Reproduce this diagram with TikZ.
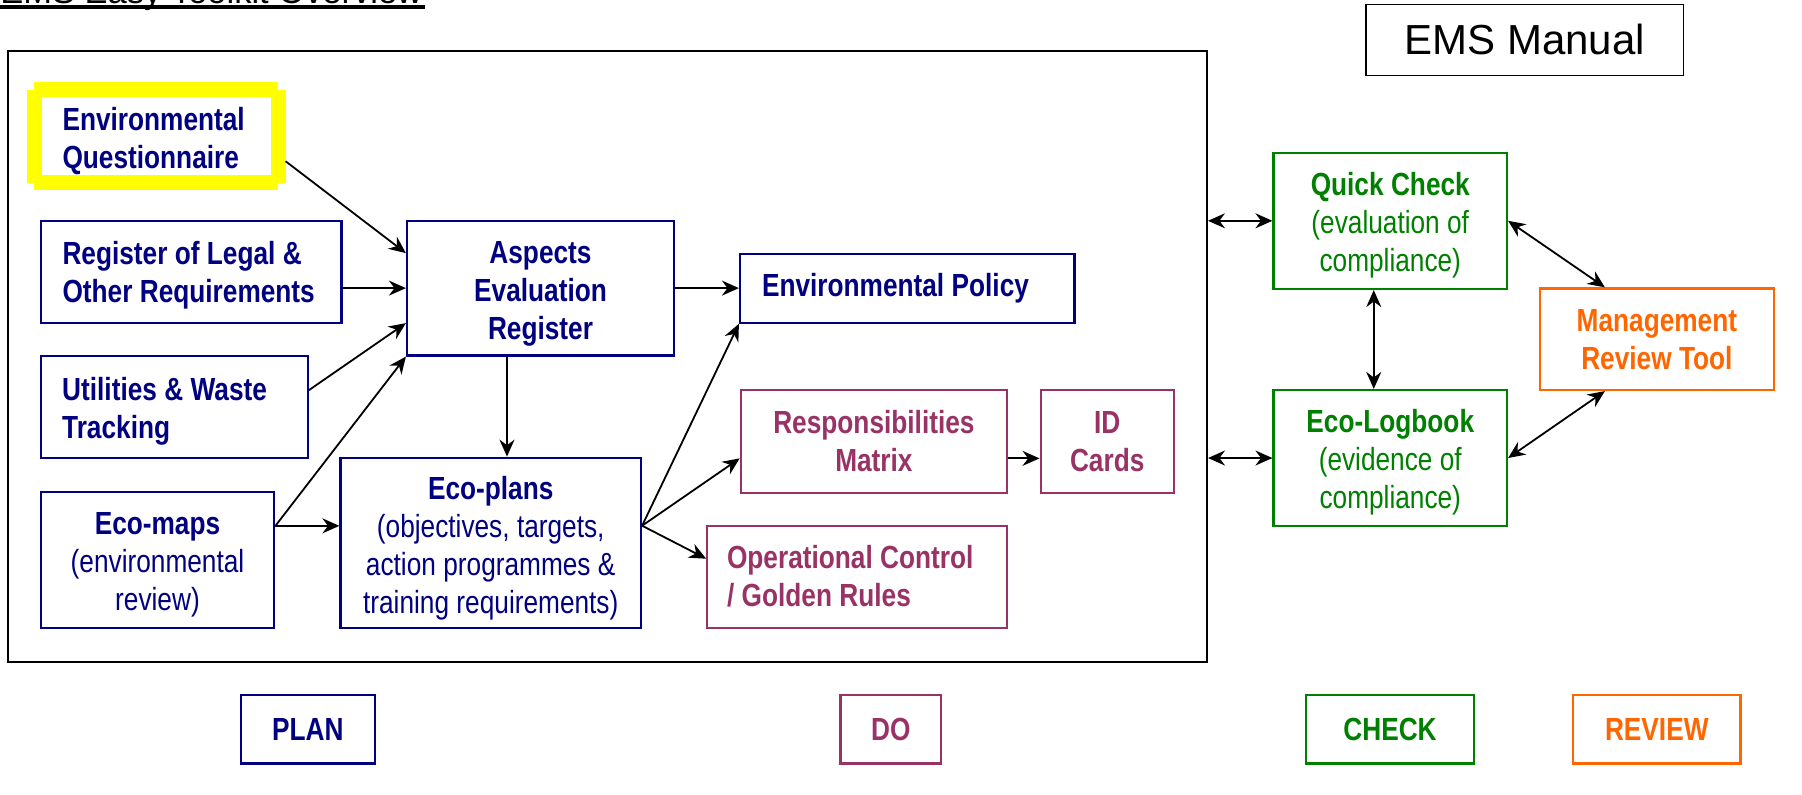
\documentclass[tikz,border=0pt]{standalone}
\usepackage{fontspec}
\setmainfont{Liberation Sans}
\newfontfamily\nar[FakeStretch=0.82]{Liberation Sans}
\usetikzlibrary{arrows.meta,calc}
\definecolor{navy}{HTML}{000080}
\definecolor{maroon}{HTML}{993366}
\definecolor{dgreen}{HTML}{008000}
\definecolor{orng}{HTML}{FF6600}
\definecolor{yell}{HTML}{FFFF00}
\newcommand\tightsp{\spaceskip=0.23em\relax}
\begin{document}
\begin{tikzpicture}[x=0.5pt,y=-0.5pt,
  box/.style={draw, rectangle, inner sep=0pt, line width=1.1pt,
    font=\nar\fontsize{16pt}{19pt}\selectfont, align=center,
    execute at begin node=\tightsp},
  planbox/.style={box, draw=navy, text=navy},
  dobox/.style={box, draw=maroon, text=maroon},
  chkbox/.style={box, draw=dgreen, text=dgreen},
  revbox/.style={box, draw=orng, text=orng},
  lowered/.style={execute at begin node={\tightsp\rule{0pt}{#1}}},
  tip/.tip={Stealth[length=8.5pt,width=7.5pt,inset=2.8pt]},
  arr/.style={-tip, line width=0.9pt},
  darr/.style={tip-tip, line width=0.9pt}
]
\useasboundingbox[fill=white] (0,0) rectangle (1802,794);

% title (cut off at top, as in the original)
\node[font=\fontsize{17.25pt}{20pt}\selectfont, anchor=base west, inner sep=0pt] (title) at (0,3.3) {EMS Easy Toolkit Overview};
\draw[line width=2pt] ($(title.base west)+(0,4)$) -- ($(title.base east)+(2,4)$);

% main frame
\node[draw=black, line width=1pt, rectangle, inner sep=0pt, minimum width=599.7pt, minimum height=305.5pt] (frame) at (607.3,356.5) {};

% PLAN boxes
\node[box, draw=none, text=navy, align=left, lowered=16.3pt, minimum width=120.75pt, minimum height=45.25pt, text width=93.75pt] (envq) at (156.25,136.25) {\bfseries Environmental\\Questionnaire};
\draw[yell, line width=7.5pt] (envq.north west) -- (envq.north east)
  (envq.north east) -- (envq.south east)
  (envq.south east) -- (envq.south west)
  (envq.south west) -- (envq.north west);
\node[planbox, align=left, lowered=15.5pt, minimum width=150.25pt, minimum height=51pt, text width=128.75pt] (reg) at (191.25,271.7) {\bfseries Register of Legal \&\\Other Requirements};
\node[planbox, lowered=16.7pt, minimum width=133.5pt, minimum height=67.4pt, text width=125pt] (asp) at (540.5,288.1) {\bfseries Aspects\\Evaluation\\Register};
\node[planbox, align=left, lowered=15.5pt, minimum width=133.55pt, minimum height=51.15pt, text width=112.05pt] (util) at (174.25,407.15) {\bfseries Utilities \& Waste\\Tracking};
\node[planbox, lowered=16.3pt, minimum width=116.8pt, minimum height=67.85pt, text width=110pt] (ecomaps) at (157.5,559.85) {{\bfseries Eco-maps}\\(environmental\\review)};
\node[planbox, lowered=16.8pt, minimum width=150.25pt, minimum height=85pt, text width=144pt] (ecoplans) at (490.75,542.7) {{\bfseries Eco-plans}\\(objectives, targets,\\action programmes \&\\training requirements)};
\node[planbox, align=left, minimum width=167.25pt, minimum height=34.35pt, text width=145.25pt] (policy) at (907.25,288.35) {\bfseries Environmental Policy};

% DO boxes
\node[dobox, minimum width=133.1pt, minimum height=51.35pt] (resp) at (873.9,441.35) {\bfseries Responsibilities\\\bfseries Matrix};
\node[dobox, minimum width=66.6pt, minimum height=51.35pt] (idc) at (1107.2,441.35) {\bfseries ID\\\bfseries Cards};
\node[dobox, align=left, minimum width=149.85pt, minimum height=51pt, text width=130.15pt] (opc) at (857.15,576.7) {\bfseries Operational Control\\/ Golden Rules};

% EMS Manual
\node[draw=black, line width=0.7pt, rectangle, inner sep=0pt, minimum width=158.75pt, minimum height=35.6pt, font=\fontsize{21pt}{24pt}\selectfont] (manual) at (1524.75,39.8) {EMS Manual};

% CHECK / REVIEW boxes
\node[chkbox, lowered=16.3pt, minimum width=116.75pt, minimum height=68.2pt, text width=110pt] (qc) at (1390.25,220.8) {{\bfseries Quick Check}\\(evaluation of\\compliance)};
\node[chkbox, lowered=16.3pt, minimum width=116.75pt, minimum height=68pt, text width=110pt] (elb) at (1390.25,458) {{\bfseries Eco-Logbook}\\(evidence of\\compliance)};
\node[revbox, minimum width=116.85pt, minimum height=50.8pt] (mrt) at (1656.85,339.2) {\bfseries Management\\\bfseries Review Tool};

% legend boxes
\node[planbox, minimum width=67pt, minimum height=34.25pt] (plan) at (307.8,729.25) {\bfseries PLAN};
\node[dobox, minimum width=50.25pt, minimum height=34.25pt] (do) at (890.75,729.25) {\bfseries DO};
\node[chkbox, minimum width=84pt, minimum height=34.25pt] (check) at (1390,729.25) {\bfseries CHECK};
\node[revbox, minimum width=83.75pt, minimum height=34.25pt] (review) at (1656.75,729.25) {\bfseries REVIEW};

% connectors
\draw[arr] ($(envq.east)+(7.5,25)$) -- ($(asp.west)+(0,-35)$);
\draw[arr] (reg.east |- asp.west) -- (asp.west);
\draw[arr] ($(util.east)+(0,-17)$) -- ($(asp.west)+(0,35)$);
\coordinate (em1) at ($(ecomaps.east)+(0,-34)$);
\draw[arr] (em1) -- (asp.south west);
\draw[arr] (em1) -- (em1 -| ecoplans.west);
\draw[arr] ($(asp.south)+(-33.5,0)$) -- ($(ecoplans.north)+(16.25,0)$);
\draw[arr] (asp.east) -- (asp.east -| policy.west);
\coordinate (ep1) at ($(ecoplans.east)+(0,-17)$);
\draw[arr] (ep1) -- (policy.south west);
\draw[arr] (ep1) -- ($(resp.west)+(0,17)$);
\draw[arr] (ep1) -- ($(opc.west)+(0,-18)$);
\draw[arr] ($(resp.east)+(0,17)$) -- ($(idc.west)+(0,17)$);

\draw[darr] (qc.west -| frame.east) -- (qc.west);
\draw[darr] (elb.west -| frame.east) -- (elb.west);
\draw[darr] ($(qc.south)+(-16.5,0)$) -- ($(elb.north)+(-16.5,0)$);
\draw[darr] (qc.east) -- ($(mrt.north)+(-52,0)$);
\draw[darr] (elb.east) -- ($(mrt.south)+(-52,0)$);
\end{tikzpicture}
\end{document}
